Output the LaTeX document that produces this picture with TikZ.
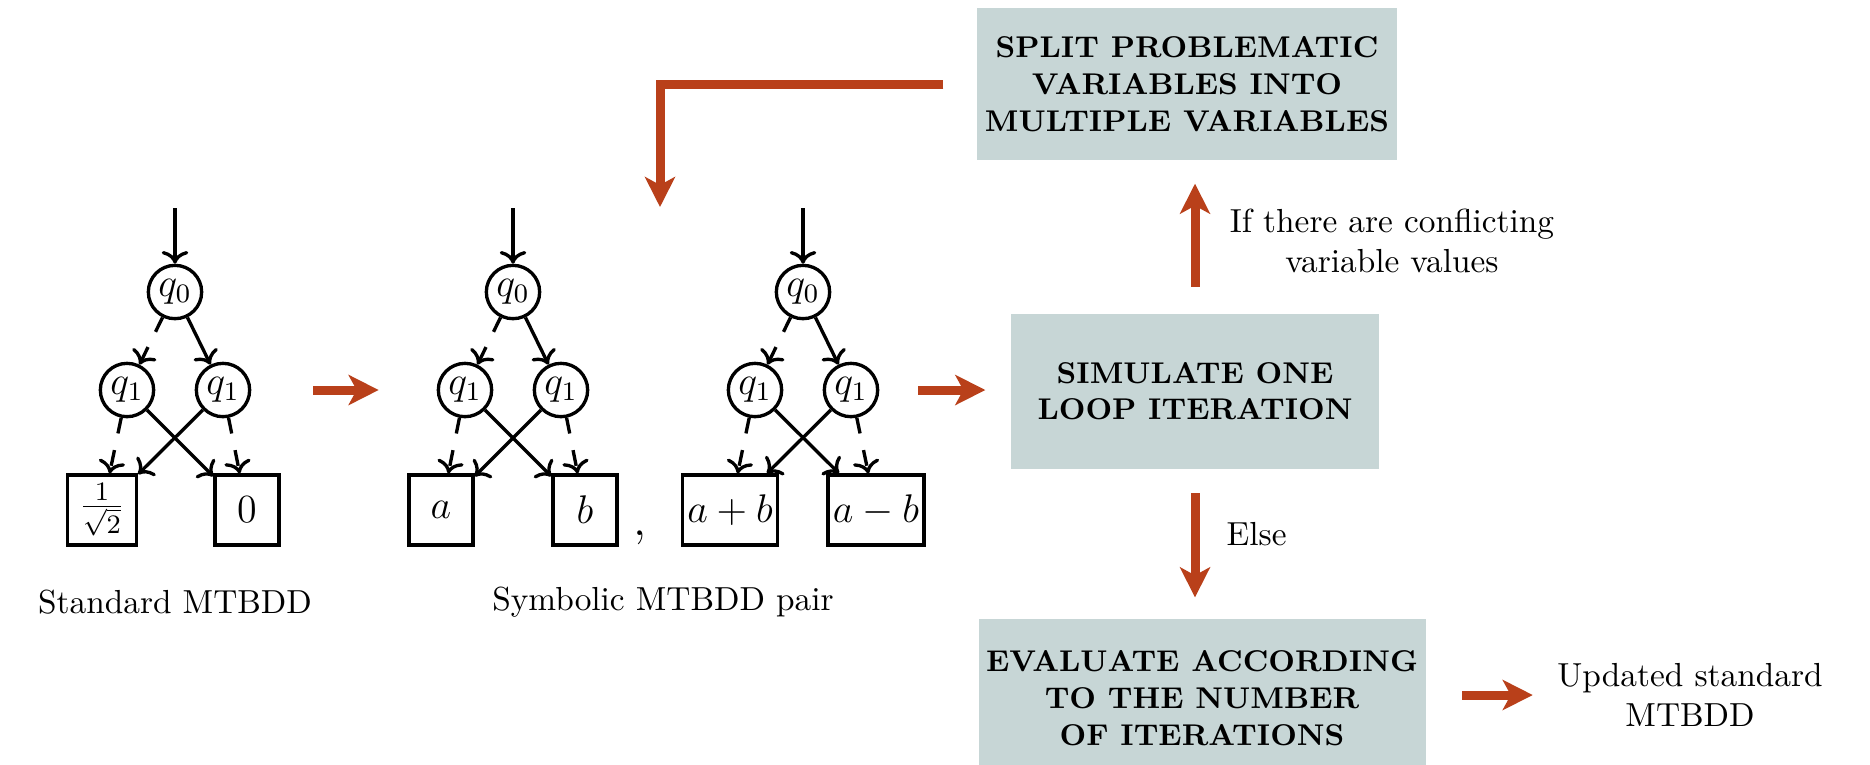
\documentclass[tikz,border=0pt]{standalone}
\usetikzlibrary{arrows.meta}

\newlength{\du}
\setlength{\du}{0.3pt}

\definecolor{boxfill}{RGB}{199,214,214}
\definecolor{flowred}{RGB}{185,64,26}

\tikzset{
  ddnode/.style={circle, draw, line width=1pt, minimum size=16pt, inner sep=0.5pt, font=\large},
  leaf/.style={rectangle, draw, line width=1pt, minimum width=19.2pt, minimum height=21pt, inner sep=1.5pt, font=\large},
  hi/.style={line width=1pt, ->},
  lo/.style={line width=1pt, ->, dash pattern=on 4.8pt off 5.1pt},
  phase/.style={fill=boxfill, font=\small\bfseries, align=center, inner sep=0pt},
  flow/.style={line width=2.7pt, draw=flowred, -{Stealth[length=9pt, width=9pt, inset=2.4pt]}},
}

\begin{document}
\begin{tikzpicture}
\pgftransformyscale{-1.000000}
\fill[white] (0\du,0\du) rectangle (1870\du,764\du);
\useasboundingbox (0\du,0\du) rectangle (1870\du,764\du);

% standard MTBDD
\coordinate (sin) at (175\du,208\du);
\node[ddnode] (s0) at (175\du,292\du) {$q_0$};
\node[ddnode] (s1) at (127\du,390\du) {$q_1$};
\node[ddnode] (s2) at (223\du,390\du) {$q_1$};
\node[leaf, minimum width=20.7pt] (sa) at (102\du,510\du) {$\frac{1}{\sqrt{2}}$};
\node[leaf] (sb) at (247\du,510\du) {$0$};
\draw[hi] (sin) -- (s0);
\draw[lo] (s0) -- (s1);
\draw[hi] (s0) -- (s2);
\draw[lo] (s1) -- (sa);
\draw[hi] (s1) -- (sb);
\draw[hi] (s2) -- (sa);
\draw[lo] (s2) -- (sb);
\node[anchor=base] (slabel) at (175\du,613\du) {Standard MTBDD};

% symbolic MTBDD, first of the pair
\coordinate (uin) at (513\du,208\du);
\node[ddnode] (u0) at (513\du,292\du) {$q_0$};
\node[ddnode] (u1) at (465\du,390\du) {$q_1$};
\node[ddnode] (u2) at (561\du,390\du) {$q_1$};
\node[leaf] (ua) at (441\du,510\du) {$a$};
\node[leaf] (ub) at (585\du,510\du) {$b$};
\draw[hi] (uin) -- (u0);
\draw[lo] (u0) -- (u1);
\draw[hi] (u0) -- (u2);
\draw[lo] (u1) -- (ua);
\draw[hi] (u1) -- (ub);
\draw[hi] (u2) -- (ua);
\draw[lo] (u2) -- (ub);

\node[font=\Large] (comma) at (640\du,538\du) {,};

% symbolic MTBDD, second of the pair
\coordinate (vin) at (803\du,208\du);
\node[ddnode] (v0) at (803\du,292\du) {$q_0$};
\node[ddnode] (v1) at (755\du,390\du) {$q_1$};
\node[ddnode] (v2) at (851\du,390\du) {$q_1$};
\node[leaf] (va) at (730\du,510\du) {$a+b$};
\node[leaf] (vb) at (876\du,510\du) {$a-b$};
\draw[hi] (vin) -- (v0);
\draw[lo] (v0) -- (v1);
\draw[hi] (v0) -- (v2);
\draw[lo] (v1) -- (va);
\draw[hi] (v1) -- (vb);
\draw[hi] (v2) -- (va);
\draw[lo] (v2) -- (vb);
\node[anchor=base] (plabel) at (663\du,610\du) {Symbolic MTBDD pair};

% loop steps
\node[phase, minimum width=126pt, minimum height=45.6pt] (split) at (1187\du,84\du) {SPLIT PROBLEMATIC\\VARIABLES INTO\\MULTIPLE VARIABLES};
\node[phase, minimum width=110.4pt, minimum height=46.5pt] (simulate) at (1195\du,391\du) {SIMULATE ONE\\LOOP ITERATION};
\node[phase, minimum width=134.1pt, minimum height=47.4pt] (evaluate) at (1202\du,698\du) {EVALUATE ACCORDING\\TO THE NUMBER\\OF ITERATIONS};
\node[align=center, inner sep=0pt] (updated) at (1690\du,695\du) {Updated standard\\MTBDD};
\node[align=center, inner sep=0pt] (conflict) at (1392\du,241\du) {If there are conflicting\\variable values};
\node[anchor=base west, inner sep=0pt] (else) at (1226\du,545\du) {Else};

\coordinate (pairtop) at (660\du,207\du);
\draw[flow, shorten <=18.6pt, shorten >=17.4pt] (s2.east) -- (u1.west);
\draw[flow, shorten <=11.7pt, shorten >=7.5pt] (v2.east) -- (v2.east -| simulate.west);
\draw[flow, shorten <=7.8pt, shorten >=6.9pt] (simulate.north) -- (simulate.north |- split.south);
\draw[flow, shorten <=7.2pt, shorten >=6.3pt] (simulate.south) -- (simulate.south |- evaluate.north);
\draw[flow, shorten <=10.8pt, shorten >=7.2pt] (evaluate.east |- updated.west) -- (updated.west);
\draw[flow, shorten <=9.9pt] (split.west) -| (pairtop);
\end{tikzpicture}
\end{document}
